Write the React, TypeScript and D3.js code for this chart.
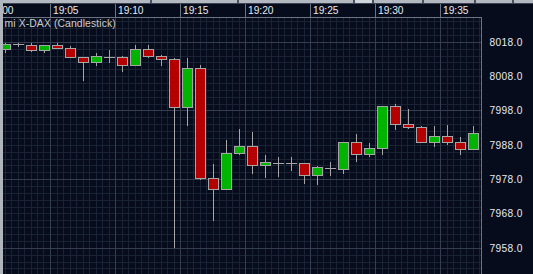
import React from "react";
import * as d3 from "d3";

const W = 533;
const H = 274;

const times = [
  "19:01","19:02","19:03","19:04","19:05","19:06","19:07","19:08","19:09","19:10",
  "19:11","19:12","19:13","19:14","19:15","19:16","19:17","19:18","19:19","19:20",
  "19:21","19:22","19:23","19:24","19:25","19:26","19:27","19:28","19:29","19:30",
  "19:31","19:32","19:33","19:34","19:35","19:36","19:37",
];
const open = [
  8016.0, 8017.4, 8017.0, 8015.7, 8017.0, 8016.1, 8013.6, 8012.2, 8013.6, 8013.6,
  8011.2, 8016.0, 8013.9, 8013.0, 7998.9, 8010.4, 7978.4, 7975.0, 7985.5, 7987.7,
  7982.0, 7982.8, 7982.7, 7982.7, 7979.1, 7981.3, 7981.0, 7988.8, 7985.4, 7987.1,
  7999.2, 7994.1, 7993.2, 7988.8, 7990.7, 7988.8, 7986.9,
];
const close = [
  8017.5, 8017.4, 8015.7, 8017.0, 8016.25, 8013.6, 8012.2, 8013.9, 8013.6, 8011.3,
  8016.0, 8013.8, 8012.9, 7998.9, 8010.4, 7978.4, 7975.0, 7985.6, 7987.7, 7982.0,
  7983.0, 7982.8, 7982.7, 7979.1, 7981.4, 7981.3, 7988.8, 7985.4, 7987.1, 7999.2,
  7994.1, 7993.2, 7988.8, 7990.5, 7988.8, 7986.9, 7991.5,
];
const high = [
  8018.0, 8017.9, 8017.8, 8017.1, 8017.8, 8017.0, 8013.6, 8015.0, 8016.0, 8014.2,
  8017.3, 8017.3, 8014.4, 8013.7, 8013.7, 8011.4, 7982.8, 7989.8, 7992.9, 7991.9,
  7985.4, 7984.8, 7984.8, 7982.7, 7982.0, 7983.3, 7988.8, 7991.5, 7988.8, 7999.2,
  8000.2, 7998.6, 7993.8, 7993.9, 7994.2, 7990.5, 7993.9,
];
const low = [
  8015.1, 8016.7, 8015.3, 8015.0, 8016.2, 8013.6, 8007.0, 8011.2, 8012.1, 8009.4,
  8011.2, 8013.5, 8011.2, 7958.3, 7993.8, 7978.0, 7966.0, 7975.0, 7985.2, 7979.9,
  7978.6, 7978.8, 7980.6, 7977.0, 7976.7, 7979.3, 7979.9, 7983.2, 7984.6, 7985.4,
  7992.6, 7992.9, 7988.8, 7987.6, 7988.1, 7985.2, 7986.9,
];
const priceTicks = [8018, 8008, 7998, 7988, 7978, 7968, 7958];
const timeTicks = ["19:00", "19:05", "19:10", "19:15", "19:20", "19:25", "19:30", "19:35"];
const title = "mi X-DAX (Candlestick)";

const parse = d3.timeParse("%H:%M");

const PLOT_L = 3;
const PLOT_R = 481;
const PLOT_T = 17;

const BG = "#060c1c";
const MINOR = "#1a2334";
const MAJOR = "#343e4f";
const BORDER = "#6c7484";
const TEXT = "#e8eaee";
const RED = "#b40000";
const GREEN = "#00b400";
const CANDLE_STROKE = "#a6a6a6";

const crisp = (v: number) => Math.round(v - 0.5) + 0.5;

export default function App() {
  const x = d3
    .scaleTime()
    .domain([parse("19:05")!, parse("19:35")!])
    .range([50.5, 440.5]);
  const y = d3.scaleLinear().domain([7958, 8018]).range([248.3, 42.3]);

  // grid
  const t0 = parse("19:00")!;
  const minorV: number[] = [];
  for (let s = 0; s <= 40 * 60; s += 30) {
    const px = x(new Date(t0.getTime() + s * 1000));
    if (px > PLOT_L && px < PLOT_R) minorV.push(px);
  }
  const majorV = timeTicks.map((t) => x(parse(t)!)).filter((px) => px > PLOT_L && px < PLOT_R);
  const minorH: number[] = [];
  const majorH: number[] = [];
  for (let p = 8026; p >= 7948; p -= 2) {
    const py = y(p);
    if (py > PLOT_T && py < H) {
      if ((p - 7958) % 20 === 0) majorH.push(py);
      else minorH.push(py);
    }
  }

  const candles = times.map((t, i) => {
    const cx = x(parse(t)!) + 7;
    return { cx, o: open[i], c: close[i], h: high[i], l: low[i] };
  });

  const stripGaps = [150, 237, 353, 372, 422, 474, 512];

  return (
    <svg
      width={W}
      height={H}
      style={{ position: "fixed", left: 0, top: 0, display: "block" }}
      shapeRendering="crispEdges"
    >
      <rect x={0} y={0} width={W} height={H} fill={BG} />
      <defs>
        <clipPath id="plot">
          <rect x={PLOT_L} y={PLOT_T} width={PLOT_R - PLOT_L} height={H - PLOT_T} />
        </clipPath>
      </defs>
      <g clipPath="url(#plot)">
        {minorV.map((px, i) => (
          <line key={"mv" + i} x1={crisp(px)} x2={crisp(px)} y1={PLOT_T} y2={H} stroke={MINOR} />
        ))}
        {minorH.map((py, i) => (
          <line key={"mh" + i} x1={PLOT_L} x2={PLOT_R} y1={crisp(py)} y2={crisp(py)} stroke={MINOR} />
        ))}
        {majorV.map((px, i) => (
          <line key={"Mv" + i} x1={crisp(px)} x2={crisp(px)} y1={PLOT_T} y2={H} stroke={MAJOR} />
        ))}
        {majorH.map((py, i) => (
          <line key={"Mh" + i} x1={PLOT_L} x2={PLOT_R} y1={crisp(py)} y2={crisp(py)} stroke={MAJOR} />
        ))}
        {candles.map((d, i) => {
          const cx = crisp(d.cx);
          const yh = crisp(y(d.h));
          const yl = crisp(y(d.l));
          if (d.o === d.c) {
            const yc = crisp(y(d.c));
            return (
              <g key={"c" + i}>
                <line x1={cx} x2={cx} y1={yh} y2={yl} stroke={CANDLE_STROKE} />
                <line x1={cx - 5.5} x2={cx + 5.5} y1={yc} y2={yc} stroke={CANDLE_STROKE} />
              </g>
            );
          }
          const top = crisp(y(Math.max(d.o, d.c)));
          let bot = crisp(y(Math.min(d.o, d.c)));
          if (bot - top < 2) bot = top + 2;
          return (
            <g key={"c" + i}>
              <line x1={cx} x2={cx} y1={yh} y2={yl} stroke={CANDLE_STROKE} />
              <rect
                x={cx - 5}
                y={top}
                width={10}
                height={bot - top}
                fill={d.c > d.o ? GREEN : RED}
                stroke={CANDLE_STROKE}
              />
            </g>
          );
        })}
      </g>
      {/* plot borders */}
      <line x1={PLOT_L} x2={PLOT_R + 0.5} y1={PLOT_T + 0.5} y2={PLOT_T + 0.5} stroke={BORDER} />
      <line x1={PLOT_R + 0.5} x2={PLOT_R + 0.5} y1={PLOT_T} y2={H} stroke={BORDER} />

      {/* header time labels */}
      {timeTicks.map((t) => {
        const px = x(parse(t)!);
        return (
          <g key={"tt" + t}>
            <line x1={crisp(px)} x2={crisp(px)} y1={3} y2={PLOT_T} stroke={BORDER} />
            <text
              x={px + 2.5}
              y={14}
              fill={TEXT}
              fontFamily="'Liberation Sans', Arial, sans-serif"
              fontSize={10.2}
            >
              {t}
            </text>
          </g>
        );
      })}
      <text
        x={4.5}
        y={27}
        fill="#c9ccd2"
        fontFamily="'Liberation Sans', Arial, sans-serif"
        fontSize={10.4}
        letterSpacing={0.1}
      >
        {title}
      </text>

      {/* price labels */}
      {priceTicks.map((p) => (
        <text
          key={"p" + p}
          x={489.5}
          y={y(p) + 3.5}
          fill={TEXT}
          fontFamily="'Liberation Sans', Arial, sans-serif"
          fontSize={10.2}
          letterSpacing={0.35}
        >
          {p.toFixed(1)}
        </text>
      ))}

      {/* top strip and left border */}
      <rect x={0} y={0} width={W} height={3} fill="#b4b9c1" />
      {stripGaps.map((g, i) => (
        <rect key={"g" + i} x={g} y={0} width={2} height={3} fill="#4a5060" />
      ))}
      <rect x={355} y={0} width={17} height={3} fill="#cfd6de" />
      <line x1={0} x2={W} y1={3.5} y2={3.5} stroke="#3c4352" />
      <rect x={0} y={0} width={3} height={H} fill="#b0b5bd" />
    </svg>
  );
}
